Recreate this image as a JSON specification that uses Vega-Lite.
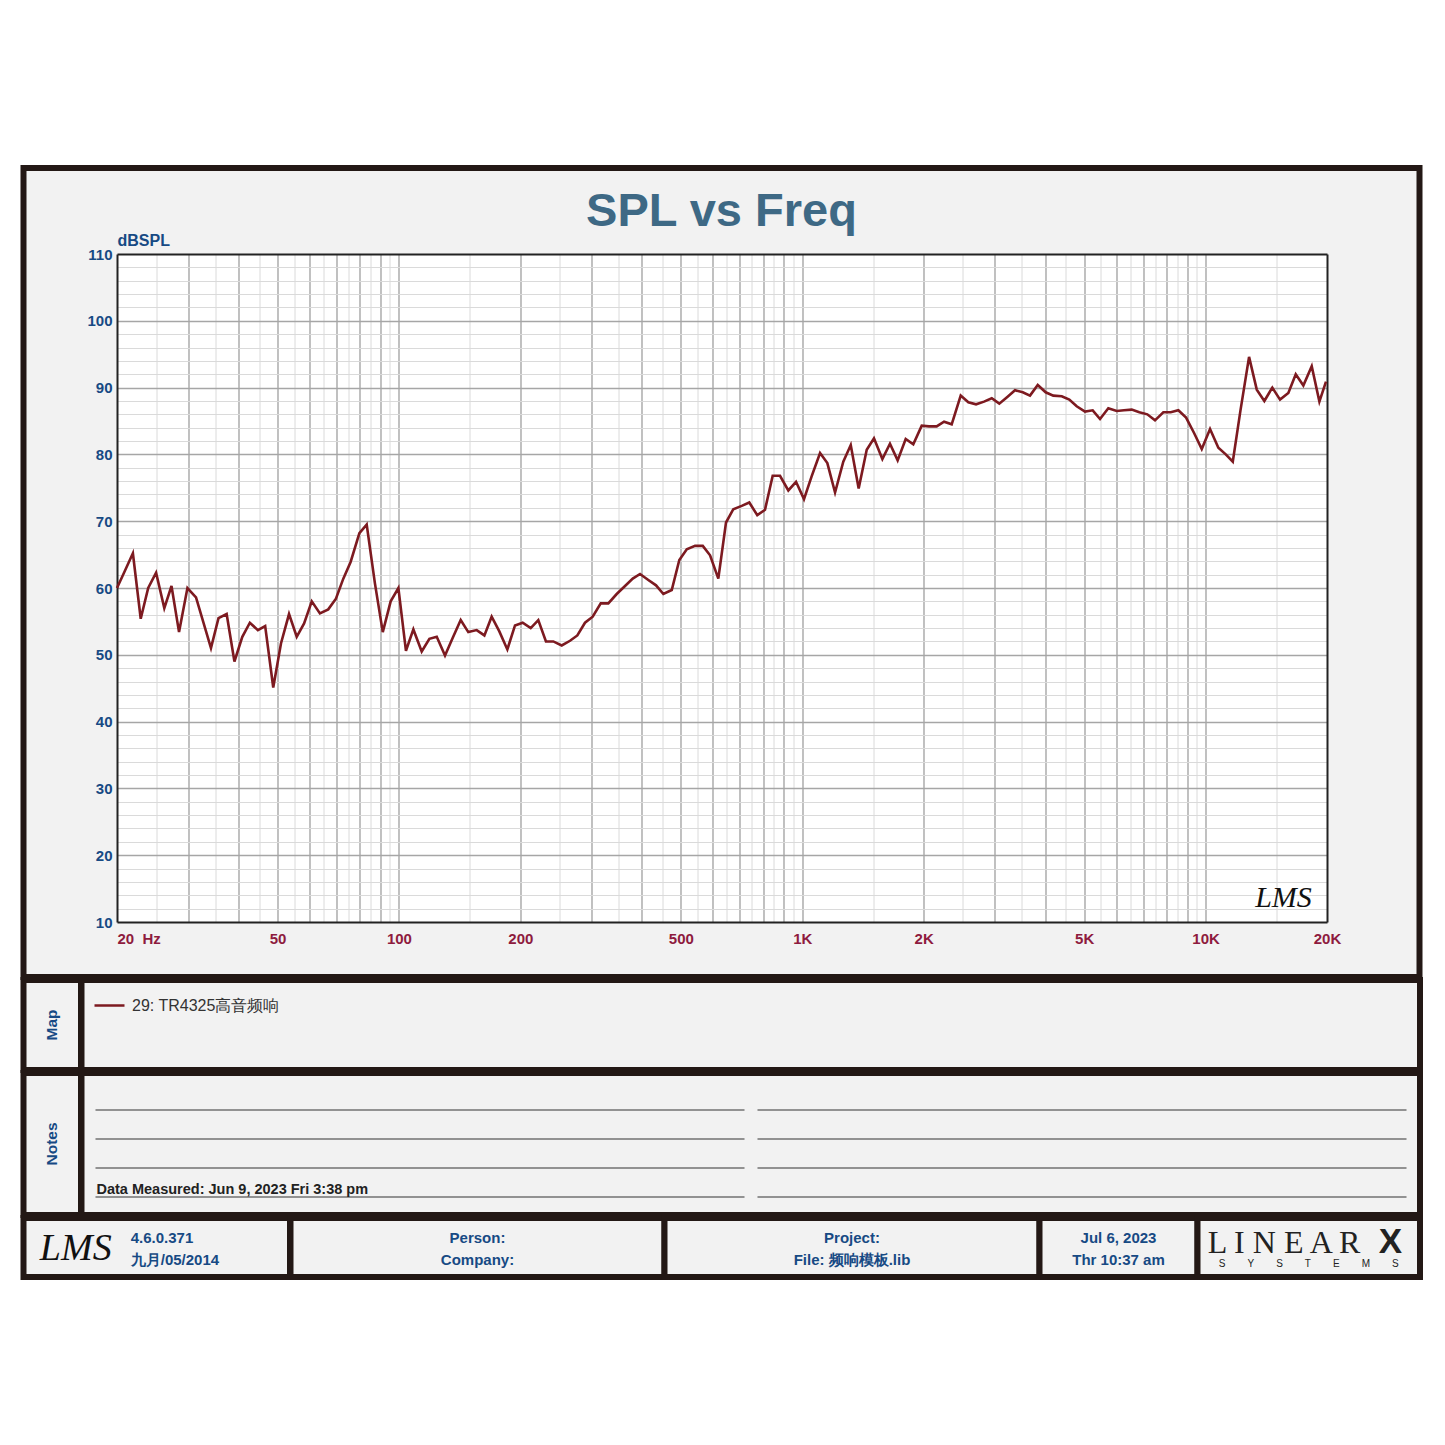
{
  "$schema": "https://vega.github.io/schema/vega-lite/v6.json",
  "background": "#ffffff",
  "padding": {"left": 20.5, "top": 165, "right": 22.5, "bottom": 165},
  "spacing": -6,
  "bounds": "full",
  "config": {
    "view": {"fill": "#f2f2f2", "stroke": "#231815", "strokeWidth": 6},
    "font": "Liberation Sans",
    "axis": {"labelFont": "Liberation Sans", "titleFont": "Liberation Sans"}
  },
  "resolve": {"scale": {"color": "shared"}, "legend": {"color": "shared"}},
  "vconcat": [
    {
      "width": 1396,
      "height": 809,
      "title": {"text": "SPL vs Freq", "font": "Liberation Sans", "fontSize": 47, "fontWeight": "bold", "color": "#3e6985", "anchor": "middle", "frame": "group", "offset": -68},
      "data": {"values": [
        {"freq": 20.0, "spl": 60.0}, {"freq": 20.9, "spl": 62.5}, {"freq": 21.9, "spl": 65.2}, {"freq": 22.9, "spl": 55.4},
        {"freq": 23.9, "spl": 60.0}, {"freq": 25.0, "spl": 62.3}, {"freq": 26.2, "spl": 57.0}, {"freq": 27.3, "spl": 60.3},
        {"freq": 28.5, "spl": 53.4}, {"freq": 29.9, "spl": 60.0}, {"freq": 31.4, "spl": 58.6}, {"freq": 34.2, "spl": 51.0},
        {"freq": 35.7, "spl": 55.5}, {"freq": 37.4, "spl": 56.1}, {"freq": 39.1, "spl": 49.0}, {"freq": 40.9, "spl": 52.7},
        {"freq": 42.7, "spl": 54.8}, {"freq": 44.7, "spl": 53.7}, {"freq": 46.6, "spl": 54.3}, {"freq": 48.8, "spl": 45.1},
        {"freq": 51.0, "spl": 51.7}, {"freq": 53.4, "spl": 56.1}, {"freq": 55.8, "spl": 52.7}, {"freq": 58.2, "spl": 54.7},
        {"freq": 60.8, "spl": 58.0}, {"freq": 63.7, "spl": 56.2}, {"freq": 66.8, "spl": 56.8}, {"freq": 69.8, "spl": 58.4},
        {"freq": 72.8, "spl": 61.4}, {"freq": 75.9, "spl": 63.9}, {"freq": 79.8, "spl": 68.2}, {"freq": 83.2, "spl": 69.5},
        {"freq": 87.2, "spl": 60.7}, {"freq": 91.2, "spl": 53.4}, {"freq": 95.4, "spl": 58.0}, {"freq": 99.7, "spl": 60.0},
        {"freq": 104.1, "spl": 50.6}, {"freq": 108.6, "spl": 53.8}, {"freq": 113.9, "spl": 50.5}, {"freq": 119.0, "spl": 52.4},
        {"freq": 124.1, "spl": 52.7}, {"freq": 130.1, "spl": 49.9}, {"freq": 135.9, "spl": 52.5}, {"freq": 142.3, "spl": 55.2},
        {"freq": 148.6, "spl": 53.4}, {"freq": 155.9, "spl": 53.7}, {"freq": 162.9, "spl": 52.9}, {"freq": 169.8, "spl": 55.7},
        {"freq": 177.4, "spl": 53.5}, {"freq": 185.7, "spl": 50.8}, {"freq": 194.0, "spl": 54.4}, {"freq": 202.7, "spl": 54.8},
        {"freq": 212.2, "spl": 54.0}, {"freq": 221.6, "spl": 55.2}, {"freq": 231.5, "spl": 52.0}, {"freq": 241.4, "spl": 52.0},
        {"freq": 253.3, "spl": 51.4}, {"freq": 265.6, "spl": 52.1}, {"freq": 276.9, "spl": 52.9}, {"freq": 289.3, "spl": 54.8},
        {"freq": 302.3, "spl": 55.7}, {"freq": 316.5, "spl": 57.7}, {"freq": 330.5, "spl": 57.7}, {"freq": 346.7, "spl": 59.1},
        {"freq": 363.6, "spl": 60.3}, {"freq": 380.0, "spl": 61.4}, {"freq": 396.1, "spl": 62.1}, {"freq": 415.3, "spl": 61.2},
        {"freq": 434.0, "spl": 60.4}, {"freq": 452.5, "spl": 59.1}, {"freq": 474.7, "spl": 59.7}, {"freq": 495.7, "spl": 64.2},
        {"freq": 517.2, "spl": 65.8}, {"freq": 542.3, "spl": 66.3}, {"freq": 566.7, "spl": 66.3}, {"freq": 590.8, "spl": 64.9},
        {"freq": 619.3, "spl": 61.4}, {"freq": 647.1, "spl": 69.8}, {"freq": 674.6, "spl": 71.8}, {"freq": 707.8, "spl": 72.3},
        {"freq": 739.1, "spl": 72.8}, {"freq": 773.6, "spl": 70.9}, {"freq": 808.4, "spl": 71.7}, {"freq": 844.7, "spl": 76.8},
        {"freq": 880.7, "spl": 76.8}, {"freq": 923.6, "spl": 74.6}, {"freq": 965.1, "spl": 75.9}, {"freq": 1010, "spl": 73.3},
        {"freq": 1055, "spl": 76.7}, {"freq": 1107, "spl": 80.2}, {"freq": 1154, "spl": 78.7}, {"freq": 1206, "spl": 74.3},
        {"freq": 1264, "spl": 78.9}, {"freq": 1319, "spl": 81.4}, {"freq": 1380, "spl": 74.9}, {"freq": 1445, "spl": 80.7},
        {"freq": 1506, "spl": 82.4}, {"freq": 1580, "spl": 79.3}, {"freq": 1650, "spl": 81.6}, {"freq": 1724, "spl": 79.1},
        {"freq": 1805, "spl": 82.3}, {"freq": 1885, "spl": 81.5}, {"freq": 1978, "spl": 84.3}, {"freq": 2062, "spl": 84.2},
        {"freq": 2154, "spl": 84.2}, {"freq": 2247, "spl": 84.9}, {"freq": 2347, "spl": 84.5}, {"freq": 2471, "spl": 88.8},
        {"freq": 2581, "spl": 87.8}, {"freq": 2697, "spl": 87.5}, {"freq": 2823, "spl": 87.9}, {"freq": 2950, "spl": 88.4},
        {"freq": 3080, "spl": 87.6}, {"freq": 3224, "spl": 88.6}, {"freq": 3369, "spl": 89.6}, {"freq": 3521, "spl": 89.3},
        {"freq": 3670, "spl": 88.8}, {"freq": 3836, "spl": 90.4}, {"freq": 4014, "spl": 89.3}, {"freq": 4192, "spl": 88.8},
        {"freq": 4399, "spl": 88.7}, {"freq": 4593, "spl": 88.2}, {"freq": 4791, "spl": 87.2}, {"freq": 5024, "spl": 86.4},
        {"freq": 5250, "spl": 86.6}, {"freq": 5474, "spl": 85.3}, {"freq": 5739, "spl": 86.9}, {"freq": 6021, "spl": 86.5},
        {"freq": 6277, "spl": 86.6}, {"freq": 6560, "spl": 86.7}, {"freq": 6850, "spl": 86.3}, {"freq": 7170, "spl": 86.0},
        {"freq": 7492, "spl": 85.1}, {"freq": 7856, "spl": 86.3}, {"freq": 8196, "spl": 86.3}, {"freq": 8560, "spl": 86.6},
        {"freq": 8946, "spl": 85.5}, {"freq": 9364, "spl": 83.2}, {"freq": 9784, "spl": 80.8}, {"freq": 10258, "spl": 83.8},
        {"freq": 10756, "spl": 81.0}, {"freq": 11220, "spl": 80.0}, {"freq": 11680, "spl": 78.9}, {"freq": 12212, "spl": 86.7},
        {"freq": 12818, "spl": 94.6}, {"freq": 13394, "spl": 89.7}, {"freq": 13986, "spl": 88.0}, {"freq": 14638, "spl": 90.0},
        {"freq": 15296, "spl": 88.2}, {"freq": 16040, "spl": 89.2}, {"freq": 16732, "spl": 92.0}, {"freq": 17474, "spl": 90.3},
        {"freq": 18330, "spl": 93.2}, {"freq": 19150, "spl": 87.9}, {"freq": 19886, "spl": 90.9}
      ]},
      "layer": [
        {
          "mark": {"type": "line", "strokeWidth": 2.6},
          "encoding": {
            "x": {"field": "freq", "type": "quantitative",
              "scale": {"type": "log", "domain": [20, 20000], "range": [93.5, 1303.5]},
              "axis": {"orient": "top", "offset": -86, "values": [632.456], "grid": true, "gridColor": "#ffffff", "gridWidth": 1210, "gridOpacity": 1, "labels": false, "ticks": false, "domain": false, "title": null}},
            "y": {"field": "spl", "type": "quantitative",
              "scale": {"domain": [10, 110], "range": [754, 86], "nice": false, "zero": false},
              "axis": {"orient": "left", "offset": -93.5, "values": [10, 20, 30, 40, 50, 60, 70, 80, 90, 100, 110], "grid": false, "ticks": false, "domain": true, "domainColor": "#222222", "domainWidth": 2, "labelPadding": 5, "labelFontSize": 15, "labelFontWeight": "bold", "labelColor": "#174a84", "labelOverlap": false, "labelFlush": false,
                "title": "dBSPL", "titleAngle": 0, "titleAlign": "left", "titleBaseline": "middle", "titleX": 0, "titleY": 72, "titleFontSize": 16, "titleFontWeight": "bold", "titleColor": "#174a84"}},
            "color": {"datum": "29: TR4325高音频响", "type": "nominal", "scale": {"range": ["#7d1a20"]},
              "legend": {"orient": "none", "legendX": 69.5, "legendY": 821, "title": null, "symbolType": "stroke", "symbolStrokeWidth": 2.5, "symbolSize": 900, "labelFontSize": 16, "labelFont": "Liberation Sans", "labelColor": "#333333", "labelOffset": 6, "padding": 0, "zindex": 1}}
          }
        },
        {
          "mark": {"type": "line", "strokeOpacity": 0},
          "encoding": {
            "x": {"field": "freq", "type": "quantitative",
              "scale": {"type": "log", "domain": [20, 20000], "range": [93.5, 1303.5]},
              "axis": {"orient": "top", "offset": -86, "values": [25, 35, 45, 55, 65, 75, 85, 95, 150, 250, 350, 450, 550, 650, 750, 850, 950, 1500, 2500, 3500, 4500, 5500, 6500, 7500, 8500, 9500, 15000], "grid": true, "gridColor": "#dadada", "gridWidth": 1, "labels": false, "ticks": false, "domain": true, "domainColor": "#222222", "domainWidth": 2, "title": null}},
            "y": {"field": "spl", "type": "quantitative",
              "scale": {"domain": [10, 110], "range": [754, 86], "nice": false, "zero": false},
              "axis": {"orient": "left", "offset": -93.5, "values": [12, 14, 16, 18, 22, 24, 26, 28, 32, 34, 36, 38, 42, 44, 46, 48, 52, 54, 56, 58, 62, 64, 66, 68, 72, 74, 76, 78, 82, 84, 86, 88, 92, 94, 96, 98, 102, 104, 106, 108], "grid": true, "gridColor": "#dadada", "gridWidth": 1, "labels": false, "ticks": false, "domain": false, "title": null}}
          }
        },
        {
          "mark": {"type": "line", "strokeOpacity": 0},
          "encoding": {
            "x": {"field": "freq", "type": "quantitative",
              "scale": {"type": "log", "domain": [20, 20000], "range": [93.5, 1303.5]},
              "axis": {"orient": "top", "offset": -86, "values": [30, 40, 50, 60, 70, 80, 90, 100, 200, 300, 400, 500, 600, 700, 800, 900, 1000, 2000, 3000, 4000, 5000, 6000, 7000, 8000, 9000, 10000], "grid": true, "gridColor": "#a6a6a6", "gridWidth": 1.4, "labels": false, "ticks": false, "domain": false, "title": null}},
            "y": {"field": "spl", "type": "quantitative",
              "scale": {"domain": [10, 110], "range": [754, 86], "nice": false, "zero": false},
              "axis": {"orient": "left", "offset": -93.5, "values": [20, 30, 40, 50, 60, 70, 80, 90, 100], "grid": true, "gridColor": "#a6a6a6", "gridWidth": 1.4, "labels": false, "ticks": false, "domain": false, "title": null}}
          }
        },
        {
          "mark": {"type": "line", "strokeOpacity": 0},
          "encoding": {
            "x": {"field": "freq", "type": "quantitative",
              "scale": {"type": "log", "domain": [20, 20000], "range": [93.5, 1303.5]},
              "axis": {"orient": "bottom", "offset": -55, "values": [20, 50, 100, 200, 500, 1000, 2000, 5000, 10000, 20000],
                "labelExpr": "datum.value >= 1000 ? format(datum.value / 1000, 'd') + 'K' : (datum.value == 20 ? '20 \u00a0Hz' : format(datum.value, 'd'))",
                "labelAlign": {"condition": {"test": "datum.value == 20", "value": "left"}, "value": "center"},
                "labelFlush": false, "labelOverlap": false, "labelPadding": 9, "labelFontSize": 15, "labelFontWeight": "bold", "labelColor": "#8e1b3e",
                "grid": false, "ticks": false, "domain": true, "domainColor": "#222222", "domainWidth": 2, "title": null}},
            "y": {"field": "spl", "type": "quantitative",
              "scale": {"domain": [10, 110], "range": [754, 86], "nice": false, "zero": false},
              "axis": {"orient": "right", "offset": -92.5, "grid": false, "labels": false, "ticks": false, "domain": true, "domainColor": "#222222", "domainWidth": 2,
                "title": "LMS", "titleAngle": 0, "titleX": -44, "titleY": 729, "titleAlign": "center", "titleBaseline": "middle", "titleFont": "Liberation Serif", "titleFontStyle": "italic", "titleFontWeight": "normal", "titleFontSize": 30, "titleColor": "#111111"}}
          }
        }
      ],
      "resolve": {"axis": {"x": "independent", "y": "independent"}}
    },
    {
      "spacing": 0,
      "bounds": "flush",
      "hconcat": [
        {
          "width": 57.5, "height": 90,
          "view": {"fill": "#f2f2f2", "stroke": "#231815", "strokeWidth": 6},
          "data": {"values": [{"label": "Map"}]},
          "mark": {"type": "text", "angle": 270, "font": "Liberation Sans", "fontSize": 15.5, "fontWeight": "bold", "color": "#174a84", "align": "center", "baseline": "middle"},
          "encoding": {"text": {"field": "label"}}
        },
        {
          "width": 1338.5, "height": 90,
          "view": {"fill": "#f2f2f2", "stroke": "#231815", "strokeWidth": 6},
          "data": {"values": []},
          "mark": {"type": "text"},
          "encoding": {}
        }
      ]
    },
    {
      "spacing": 0,
      "bounds": "flush",
      "hconcat": [
        {
          "width": 57.5, "height": 142,
          "view": {"fill": "#f2f2f2", "stroke": "#231815", "strokeWidth": 6},
          "data": {"values": [{"label": "Notes"}]},
          "mark": {"type": "text", "angle": 270, "font": "Liberation Sans", "fontSize": 15.5, "fontWeight": "bold", "color": "#174a84", "align": "center", "baseline": "middle"},
          "encoding": {"text": {"field": "label"}}
        },
        {
          "width": 1338.5, "height": 142,
          "layer": [
            {
              "data": {"values": [{"line": 1}, {"line": 2}, {"line": 3}, {"line": 4}]},
              "mark": {"type": "rule", "color": "#333333", "strokeWidth": 1.2},
              "encoding": {
                "y": {"field": "line", "type": "quantitative", "scale": {"domain": [1, 4], "range": [37, 124], "nice": false, "zero": false}, "axis": null},
                "x": {"datum": 0, "type": "quantitative", "scale": {"domain": [0, 1], "range": [14, 663], "nice": false, "zero": false}, "axis": null},
                "x2": {"datum": 1}
              }
            },
            {
              "data": {"values": [{"line": 1}, {"line": 2}, {"line": 3}, {"line": 4}]},
              "mark": {"type": "rule", "color": "#333333", "strokeWidth": 1.2},
              "encoding": {
                "y": {"field": "line", "type": "quantitative", "scale": {"domain": [1, 4], "range": [37, 124], "nice": false, "zero": false}, "axis": null},
                "x": {"datum": 0, "type": "quantitative", "scale": {"domain": [0, 1], "range": [676, 1325], "nice": false, "zero": false}, "axis": null},
                "x2": {"datum": 1}
              }
            },
            {
              "data": {"values": [{"note": "Data Measured: Jun 9, 2023 Fri 3:38 pm"}]},
              "mark": {"type": "text", "align": "left", "baseline": "alphabetic", "dy": -3, "font": "Liberation Sans", "fontSize": 14.5, "fontWeight": "bold", "color": "#222222"},
              "encoding": {
                "text": {"field": "note"},
                "y": {"datum": 4, "type": "quantitative", "scale": {"domain": [1, 4], "range": [37, 124], "nice": false, "zero": false}, "axis": null},
                "x": {"datum": 0, "type": "quantitative", "scale": {"domain": [0, 1], "range": [15, 664], "nice": false, "zero": false}, "axis": null}
              }
            }
          ],
          "resolve": {"scale": {"x": "independent"}}
        }
      ]
    },
    {
      "spacing": 0,
      "bounds": "flush",
      "hconcat": [
        {
          "width": 266.5, "height": 59,
          "view": {"fill": "#f2f2f2", "stroke": "#231815", "strokeWidth": 6},
          "layer": [
            {
              "data": {"values": [{"logo": "LMS"}]},
              "mark": {"type": "text", "align": "center", "baseline": "middle", "dx": -81, "dy": 1, "font": "Liberation Serif", "fontStyle": "italic", "fontSize": 38, "color": "#111111"},
              "encoding": {"text": {"field": "logo"}}
            },
            {
              "data": {"values": [{"info": "4.6.0.371\n九月/05/2014"}]},
              "mark": {"type": "text", "align": "left", "baseline": "middle", "dx": -26, "dy": -10, "lineBreak": "\n", "lineHeight": 22, "font": "Liberation Sans", "fontSize": 15, "fontWeight": "bold", "color": "#174a84"},
              "encoding": {"text": {"field": "info"}}
            }
          ]
        },
        {
          "width": 374, "height": 59,
          "view": {"fill": "#f2f2f2", "stroke": "#231815", "strokeWidth": 6},
          "data": {"values": [{"info": "Person:\nCompany:"}]},
          "mark": {"type": "text", "align": "center", "baseline": "middle", "dy": -10, "lineBreak": "\n", "lineHeight": 22, "font": "Liberation Sans", "fontSize": 15, "fontWeight": "bold", "color": "#174a84"},
          "encoding": {"text": {"field": "info"}}
        },
        {
          "width": 375, "height": 59,
          "view": {"fill": "#f2f2f2", "stroke": "#231815", "strokeWidth": 6},
          "data": {"values": [{"info": "Project:\nFile: 频响模板.lib"}]},
          "mark": {"type": "text", "align": "center", "baseline": "middle", "dy": -10, "lineBreak": "\n", "lineHeight": 22, "font": "Liberation Sans", "fontSize": 15, "fontWeight": "bold", "color": "#174a84"},
          "encoding": {"text": {"field": "info"}}
        },
        {
          "width": 158, "height": 59,
          "view": {"fill": "#f2f2f2", "stroke": "#231815", "strokeWidth": 6},
          "data": {"values": [{"info": "Jul 6, 2023\nThr 10:37 am"}]},
          "mark": {"type": "text", "align": "center", "baseline": "middle", "dy": -10, "lineBreak": "\n", "lineHeight": 22, "font": "Liberation Sans", "fontSize": 15, "fontWeight": "bold", "color": "#174a84"},
          "encoding": {"text": {"field": "info"}}
        },
        {
          "width": 222.5, "height": 59,
          "view": {"fill": "#f2f2f2", "stroke": "#231815", "strokeWidth": 6},
          "layer": [
            {
              "data": {"values": [{"logo": "L I N E A R"}]},
              "mark": {"type": "text", "align": "left", "baseline": "alphabetic", "dx": -101, "dy": 5.5, "font": "Liberation Serif", "fontSize": 32, "color": "#222222"},
              "encoding": {"text": {"field": "logo"}}
            },
            {
              "data": {"values": [{"logo": "X"}]},
              "mark": {"type": "text", "align": "left", "baseline": "alphabetic", "dx": 70, "dy": 5.5, "font": "Liberation Sans", "fontWeight": "bold", "fontSize": 35, "color": "#222222"},
              "encoding": {"text": {"field": "logo"}}
            },
            {
              "data": {"values": [{"logo": "S\u2003\u2003\u2009Y\u2003\u2003\u2009S\u2003\u2003\u2009T\u2003\u2003\u2009E\u2003\u2003\u2009M\u2003\u2003\u2009S"}]},
              "mark": {"type": "text", "align": "center", "baseline": "alphabetic", "dx": 0, "dy": 19.5, "font": "Liberation Sans", "fontSize": 10, "color": "#222222"},
              "encoding": {"text": {"field": "logo"}}
            }
          ]
        }
      ]
    }
  ]
}
